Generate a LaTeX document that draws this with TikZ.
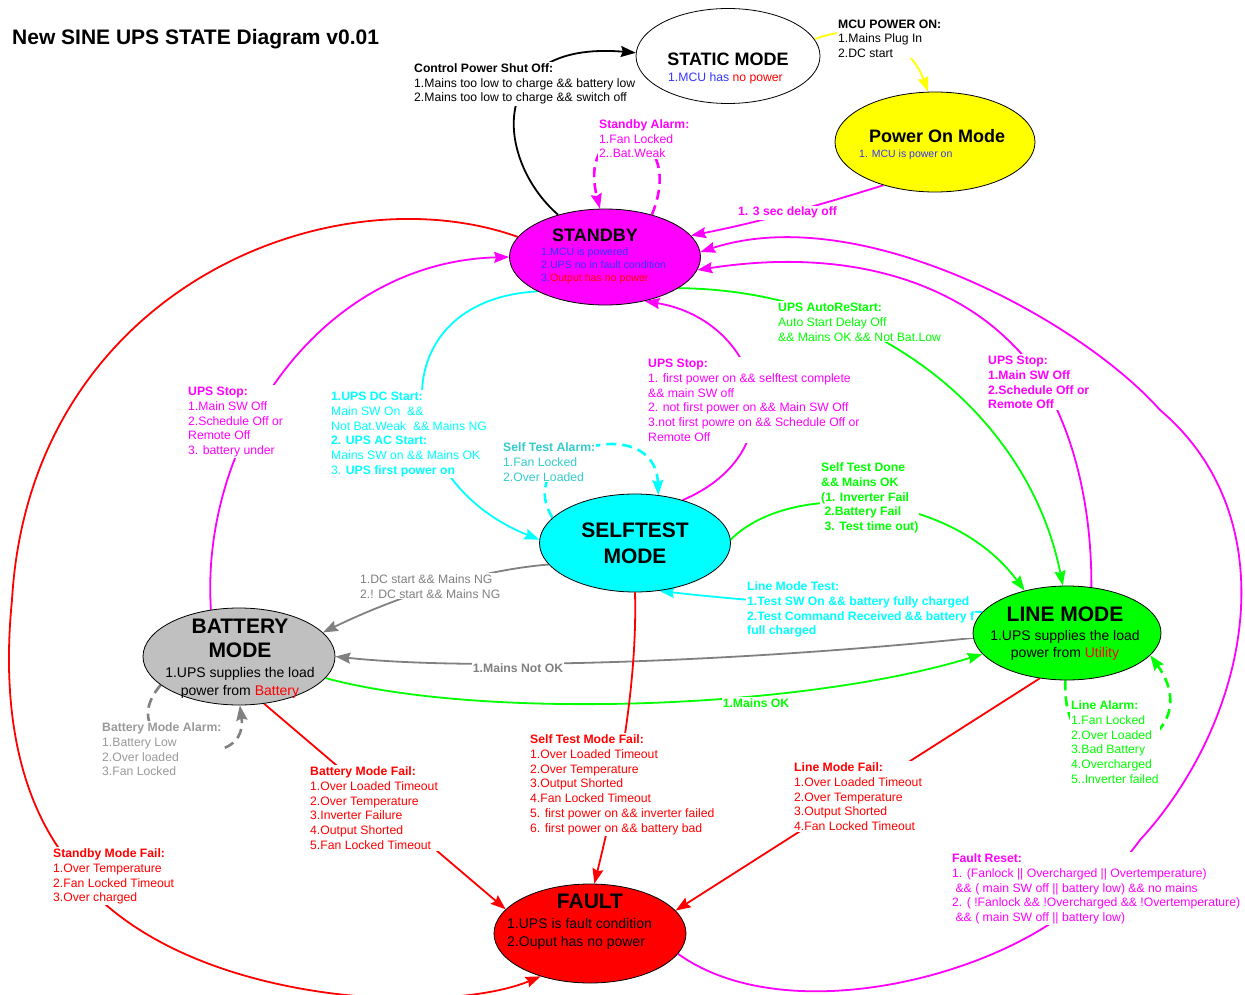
\documentclass[tikz,border=0pt]{standalone}
\usepackage{fontspec}
\setmainfont{Liberation Sans}
\usetikzlibrary{shapes.geometric,arrows.meta}
\definecolor{mag}{HTML}{FF00FF}
\definecolor{cy}{HTML}{00FFFF}
\definecolor{gr}{HTML}{00FF00}
\definecolor{rd}{HTML}{FF0000}
\definecolor{gy}{HTML}{808080}
\definecolor{lgy}{HTML}{999999}
\definecolor{yl}{HTML}{FFFF00}
\definecolor{bl}{HTML}{3333FF}
\definecolor{tl}{HTML}{33CCCC}
\definecolor{bgray}{HTML}{C0C0C0}
\pgfdeclarelayer{connlayer}
\pgfdeclarelayer{lablayer}
\pgfsetlayers{connlayer,lablayer,main}
\newcommand\st{\rule{0pt}{9.2pt}}
\tikzset{
  state/.style={ellipse, draw=black, line width=0.8pt, inner sep=0pt},
  conn/.style={line width=1.8pt, -{Stealth[length=15pt,width=11pt,inset=2pt]}},
  dloop/.style={conn, line width=2.6pt, dash pattern=on 10pt off 6pt},
  lbl/.style={anchor=north west, align=left, inner xsep=1pt, inner ysep=1pt, fill=white, font=\fontsize{12.2}{14.9}\selectfont},
  tag/.style={anchor=base, inner sep=1pt, fill=white, font=\bfseries\fontsize{12.2}{14.9}\selectfont},
  big/.style={anchor=base, inner sep=0pt, font=\bfseries\fontsize{21}{24}\selectfont},
  mid/.style={anchor=base west, inner sep=0pt, font=\bfseries\fontsize{18}{21}\selectfont},
  body/.style={anchor=base, inner sep=0pt, font=\fontsize{14}{17}\selectfont},
}
\begin{document}
\begin{tikzpicture}[x=1pt,y=-1pt]
\useasboundingbox (0,0) rectangle (1245,995);

% ---------- states ----------
\node[state, fill=white, minimum width=184pt, minimum height=95pt] (static) at (728,56) {};
\node[state, fill=yl, minimum width=200pt, minimum height=100pt] (poweron) at (935,142) {};
\node[state, fill=mag, minimum width=191pt, minimum height=96pt] (standby) at (605,257) {};
\node[state, fill=cy, minimum width=191pt, minimum height=98pt] (selftest) at (635,543) {};
\node[state, fill=bgray, minimum width=192pt, minimum height=97pt] (battery) at (239,656.5) {};
\node[state, fill=gr, minimum width=188pt, minimum height=94pt] (linemode) at (1067,633) {};
\node[state, fill=rd, minimum width=192pt, minimum height=99pt] (fault) at (590,933.5) {};

% ---------- state texts ----------
\node[anchor=base west, inner sep=0pt, font=\bfseries\fontsize{21}{24}\selectfont] (title) at (12,44.5) {New SINE UPS STATE Diagram v0.01};

\node[anchor=base, inner sep=0pt, font=\bfseries\fontsize{18}{21}\selectfont] (statict) at (728,65.4) {STATIC MODE};
\node[anchor=base west, inner sep=0pt, font=\fontsize{12.2}{14}\selectfont] (statics) at (668,81.3) {\textcolor{bl}{1.MCU has} \textcolor{rd}{no power}};

\node[mid] (powert) at (869,142.5) {Power On Mode};
\node[anchor=base west, inner sep=0pt, font=\fontsize{10.5}{13}\selectfont, text=bl] (powers) at (859,157.7) {1. MCU is power on};

\node[mid] (standbyt) at (552,241.4) {STANDBY};
\node[anchor=base west, inner sep=0pt, font=\fontsize{10.6}{13}\selectfont, text=bl] (standbya) at (541,255.8) {1.MCU is powered};
\node[anchor=base west, inner sep=0pt, font=\fontsize{10.6}{13}\selectfont, text=bl] (standbyb) at (541,268.8) {2.UPS no in fault condition};
\node[anchor=base west, inner sep=0pt, font=\fontsize{10.6}{13}\selectfont, text=bl] (standbyc) at (541,281.8) {3.\textcolor{rd}{Output has no power}};

\node[big] (selftesta) at (635,537.5) {SELFTEST};
\node[big] (selftestb) at (635,563.5) {MODE};

\node[big] (batterya) at (240,633.5) {BATTERY};
\node[big] (batteryb) at (240,657.5) {MODE};
\node[body] (batteryc) at (240,677) {1.UPS supplies the load};
\node[body] (batteryd) at (240,695) {power from \textcolor{rd}{Battery}};

\node[big] (linea) at (1065,621.5) {LINE MODE};
\node[body] (lineb) at (1065,640) {1.UPS supplies the load};
\node[body] (linec) at (1065,657) {power from \textcolor{rd}{Utility}};

\node[big] (faulta) at (590,908.5) {FAULT};
\node[body, anchor=base west] (faultb) at (507,928) {1.UPS is fault condition};
\node[body, anchor=base west] (faultc) at (507,946) {2.Ouput has no power};

% ---------- connectors ----------
\begin{pgfonlayer}{connlayer}
% control power shut off
\draw[conn, black] (standby.138) .. controls (495,160) and (485,40) .. (static.178);
% MCU power on
\draw[conn, yl] (static.11) .. controls (880,15) and (915,55) .. (poweron.98);
% 3 sec delay off
\draw[conn, mag] (poweron.220) .. controls (820,205) and (760,222) .. (standby.14);
% standby alarm
\draw[dloop, mag] (standby.42) .. controls (690,120) and (575,110) .. (standby.96);
% UPS stop (line mode -> standby)
\draw[conn, mag] (linemode.62) .. controls (1092,480) and (1060,390) .. (1013,345)
   .. controls (960,290) and (860,245) .. (standby.352);
% fault reset
\draw[conn, mag] (fault.347) .. controls (770,1020) and (940,990) .. (1040,930)
   .. controls (1080,906) and (1112,878) .. (1140,840)
   .. controls (1250,720) and (1290,520) .. (1160,410)
   .. controls (1080,320) and (860,200) .. (standby.3);
% UPS stop (battery -> standby)
\draw[conn, mag] (battery.121) .. controls (200,440) and (320,262) .. (standby.180);
% UPS stop (selftest -> standby)
\draw[conn, mag] (selftest.42) .. controls (800,450) and (760,320) .. (standby.312);
% DC start / AC start
\draw[conn, cy] (standby.207) .. controls (380,300) and (390,480) .. (selftest.178);
% self test alarm
\draw[dloop, cy] (selftest.163) .. controls (510,450) and (655,410) .. (selftest.64);
% line mode test
\draw[conn, cy] (linemode.166) .. controls (850,610) and (720,598) .. (selftest.297);
% auto restart
\draw[conn, gr] (standby.337) .. controls (880,290) and (1030,420) .. (linemode.95);
% self test done
\draw[conn, gr] (selftest.2) .. controls (790,480) and (950,490) .. (linemode.135);
% mains ok
\draw[conn, gr] (battery.346) .. controls (480,720) and (800,710) .. (linemode.194);
% line alarm
\draw[dloop, gr] (linemode.268) .. controls (1060,800) and (1215,745) .. (linemode.345);
% mains not ok
\draw[conn, gy] (linemode.183) .. controls (760,660) and (480,672) .. (battery.0);
% DC start mains NG
\draw[conn, gy] (selftest.194) .. controls (480,570) and (400,595) .. (battery.16);
% battery mode alarm
\draw[dloop, gy] (battery.200) .. controls (105,750) and (250,780) .. (battery.271);
% standby mode fail
\draw[conn, rd] (standby.167) .. controls (330,170) and (30,290) .. (12,600)
   .. controls (0,720) and (25,800) .. (60,850)
   .. controls (150,1005) and (440,1018) .. (fault.221);
% battery mode fail
\draw[conn, rd] (battery.298) -- (fault.164);
% self test mode fail
\draw[conn, rd] (selftest.270) .. controls (638,700) and (610,820) .. (fault.85);
% line mode fail
\draw[conn, rd] (linemode.239) -- (fault.15);
\end{pgfonlayer}

% ---------- labels ----------
\begin{pgfonlayer}{lablayer}
\node[lbl] (ctrl) at (413,61.8) {\st\textbf{Control Power Shut Off:}\\1.Mains too low to charge \&\& battery low\\2.Mains too low to charge \&\& switch off};
\node[lbl, font=\fontsize{12.2}{14.5}\selectfont] (mcu) at (837,17.8) {\st\textbf{MCU POWER ON:}\\1.Mains Plug In\\2.DC start};
\node[lbl, text=mag] (sbalarm) at (598,117.8) {\st\textbf{Standby Alarm:}\\1.Fan Locked\\2..Bat.Weak};
\node[tag, anchor=base west, text=mag] (delay) at (737,216) {1. 3 sec delay off};
\node[lbl, text=gr] (autorestart) at (777,300.8) {\st\textbf{UPS AutoReStart:}\\Auto Start Delay Off\\\&\& Mains OK \&\& Not Bat.Low};
\node[lbl, text=mag, font=\bfseries\fontsize{12.2}{14.9}\selectfont] (stopr) at (987,353.8) {\st UPS Stop:\\1.Main SW Off\\2.Schedule Off or\\Remote Off};
\node[lbl, text=mag] (stopl) at (187,384.8) {\st\textbf{UPS Stop:}\\1.Main SW Off\\2.Schedule Off or\\Remote Off\\3. battery under};
\node[lbl, text=cy] (dcstart) at (330,389.8) {\st\textbf{1.UPS DC Start:}\\Main SW On~~\&\&\\Not Bat.Weak~~\&\& Mains NG\\\textbf{2. UPS AC Start:}\\Mains SW on \&\& Mains OK\\3. \textbf{UPS first power on}};
\node[lbl, text=mag] (stopm) at (647,356.8) {\st\textbf{UPS Stop:}\\1. first power on \&\& selftest complete\\\&\& main SW off\\2. not first power on \&\& Main SW Off\\3.not first powre on \&\& Schedule Off or\\Remote Off};
\node[lbl, text=tl] (stalarm) at (502,440.8) {\st\textbf{Self Test Alarm:}\\1.Fan Locked\\2.Over Loaded};
\node[lbl, text=gr, font=\bfseries\fontsize{12.2}{14.9}\selectfont] (stdone) at (820,460.8) {\st Self Test Done\\\&\& Mains OK\\(1. Inverter Fail\\\ 2.Battery Fail\\\ 3. Test time out)};
\node[lbl, text=cy, font=\bfseries\fontsize{12.2}{14.9}\selectfont] (lmtest) at (746,579.8) {\st Line Mode Test:\\1.Test SW On \&\& battery fully charged\\2.Test Command Received \&\& battery f\\full charged};
\node[lbl, text=gy] (dcng) at (359,572.8) {\st 1.DC start \&\& Mains NG\\2.! DC start \&\& Mains NG};
\node[tag, text=gy] (notok) at (518,672.3) {1.Mains Not OK};
\node[tag, text=gr] (mainsok) at (756,707.3) {1.Mains OK};
\node[lbl, text=lgy] (bmalarm) at (101,720.8) {\st\textbf{Battery Mode Alarm:}\\1.Battery Low\\2.Over loaded\\3.Fan Locked};
\node[lbl, text=gr] (lalarm) at (1070,698.8) {\st\textbf{Line Alarm:}\\1.Fan Locked\\2.Over Loaded\\3.Bad Battery\\4.Overcharged\\5..Inverter failed};
\node[lbl, text=rd] (bmfail) at (309,764.8) {\st\textbf{Battery Mode Fail:}\\1.Over Loaded Timeout\\2.Over Temperature\\3.Inverter Failure\\4.Output Shorted\\5.Fan Locked Timeout};
\node[lbl, text=rd] (stfail) at (529,732.8) {\st\textbf{Self Test Mode Fail:}\\1.Over Loaded Timeout\\2.Over Temperature\\3.Output Shorted\\4.Fan Locked Timeout\\5. first power on \&\& inverter failed\\6. first power on \&\& battery bad};
\node[lbl, text=rd] (lmfail) at (793,760.8) {\st\textbf{Line Mode Fail:}\\1.Over Loaded Timeout\\2.Over Temperature\\3.Output Shorted\\4.Fan Locked Timeout};
\node[lbl, text=rd] (sbfail) at (52,846.8) {\st\textbf{Standby Mode Fail:}\\1.Over Temperature\\2.Fan Locked Timeout\\3.Over charged};
\node[lbl, text=mag] (freset) at (951,851.8) {\st\textbf{Fault Reset:}\\1. (Fanlock || Overcharged || Overtemperature)\\\ \&\& ( main SW off || battery low) \&\& no mains\\2. ( !Fanlock \&\& !Overcharged \&\& !Overtemperature)\\\ \&\& ( main SW off || battery low)};
\end{pgfonlayer}
\end{tikzpicture}
\end{document}
